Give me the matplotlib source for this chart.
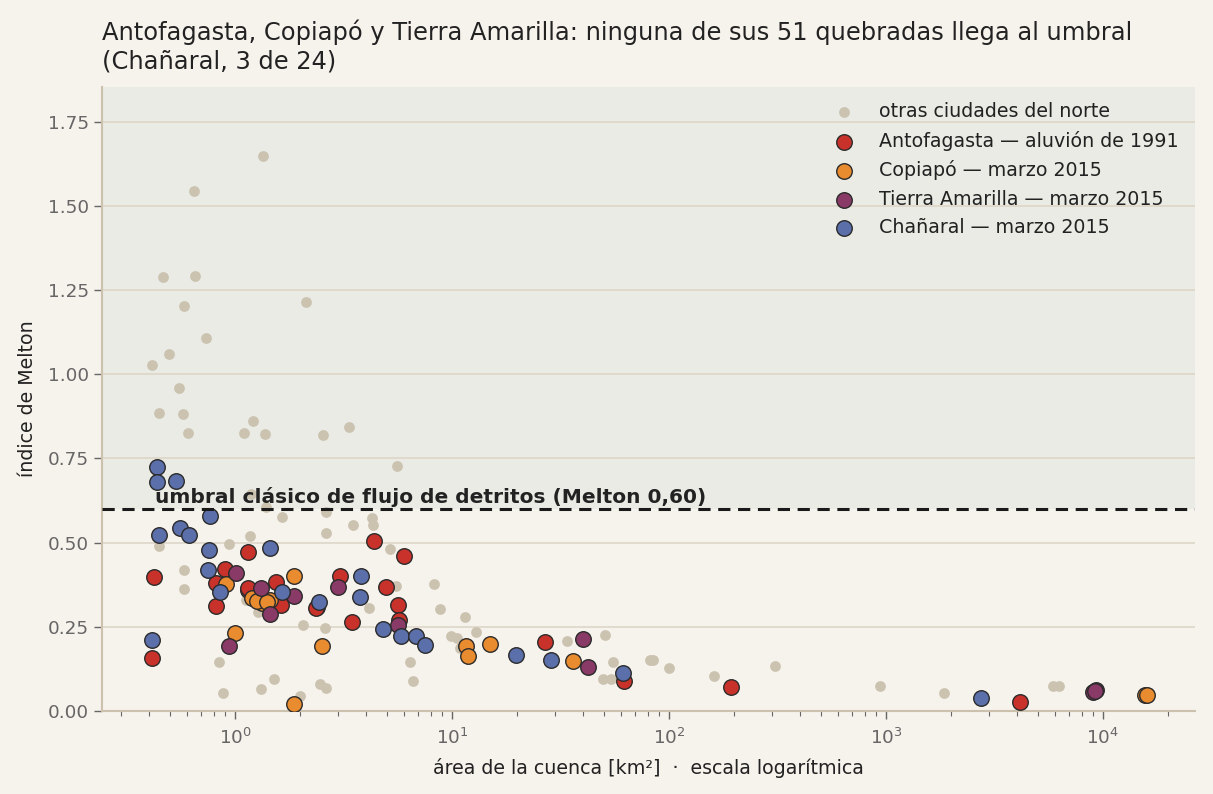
import matplotlib
matplotlib.use("Agg")
import matplotlib.pyplot as plt
import numpy as np

# ---------------- data ----------------
otras_area = [1.341, 0.645, 0.465, 0.656, 0.584, 2.12, 0.735, 0.495, 0.415, 0.554,
              0.445, 0.574, 0.605, 1.21, 1.096, 1.375, 2.55, 3.36, 5.58,
              1.185, 1.39, 1.64, 2.64, 0.445, 0.935, 1.169, 2.63, 0.584, 0.584,
              1.13, 1.28, 2.06, 2.60, 0.847, 1.51, 1.32, 0.878, 2.0, 2.46, 2.64,
              3.51, 4.26, 4.34, 5.18, 5.52, 4.16, 8.24, 8.78, 11.5, 12.9, 9.86,
              10.5, 10.9, 6.43, 6.61,
              33.8, 50.6, 55.0, 49.5, 54.2, 81.5, 84.1, 100, 161, 308, 942, 1857,
              5890, 6250]
otras_melton = [1.649, 1.543, 1.289, 1.292, 1.203, 1.213, 1.109, 1.060, 1.027, 0.959,
                0.885, 0.882, 0.826, 0.862, 0.826, 0.823, 0.820, 0.843, 0.728,
                0.645, 0.607, 0.575, 0.592, 0.491, 0.497, 0.519, 0.528, 0.418, 0.362,
                0.330, 0.293, 0.254, 0.246, 0.146, 0.096, 0.065, 0.053, 0.045, 0.079, 0.067,
                0.551, 0.574, 0.551, 0.481, 0.371, 0.307, 0.376, 0.304, 0.278, 0.235, 0.223,
                0.216, 0.186, 0.146, 0.090,
                0.207, 0.225, 0.146, 0.095, 0.095, 0.152, 0.152, 0.128, 0.104, 0.135, 0.074, 0.053,
                0.074, 0.074]

antof_area = [1.152, 0.425, 0.897, 0.817, 1.539, 1.152, 1.629, 0.820, 2.39, 0.416,
              4.38, 6.03, 3.06, 4.98, 5.66, 5.72, 3.47, 26.9, 62.0, 194, 4160,
              2.36, 1.15]
antof_melton = [0.471, 0.398, 0.422, 0.381, 0.382, 0.360, 0.315, 0.312, 0.310, 0.157,
                0.505, 0.460, 0.401, 0.368, 0.315, 0.270, 0.264, 0.205, 0.090, 0.070, 0.026,
                0.305, 0.365]

copia_area = [0.906, 1.876, 1.193, 1.327, 1.455, 1.003, 2.52, 1.87, 11.6, 11.9,
              15.0, 36.2, 15700, 1.26, 1.40, 15900]
copia_melton = [0.377, 0.401, 0.335, 0.320, 0.330, 0.233, 0.193, 0.021, 0.193, 0.162,
                0.199, 0.148, 0.047, 0.327, 0.325, 0.048]

tierra_area = [1.014, 1.322, 1.876, 1.455, 0.941, 2.99, 5.66, 40.3, 42.5, 9290, 9020, 9150]
tierra_melton = [0.409, 0.365, 0.342, 0.287, 0.193, 0.368, 0.256, 0.213, 0.130, 0.062, 0.057, 0.060]

chan_area = [0.438, 0.438, 0.537, 0.769, 0.448, 0.560, 0.616, 0.762, 1.455, 0.753,
             0.856, 1.652, 2.44, 0.416, 3.82, 3.78, 4.82, 5.84, 6.85, 7.54,
             19.7, 28.7, 61.6, 2750]
chan_melton = [0.724, 0.680, 0.682, 0.578, 0.522, 0.543, 0.522, 0.478, 0.484, 0.419,
               0.353, 0.353, 0.323, 0.211, 0.401, 0.339, 0.243, 0.223, 0.224, 0.196,
               0.167, 0.151, 0.113, 0.038]

umbral = 0.60
y_ticks = [0.00, 0.25, 0.50, 0.75, 1.00, 1.25, 1.50, 1.75]

# ---------------- style ----------------
BG = "#f6f2ec"
SHADE = "#e9ebe4"
GRID = "#ddd6c8"
SPINE = "#cbc1ad"
TXT = "#222222"
TICKTXT = "#666666"

plt.rcParams['font.family'] = ['DejaVu Sans']

fig = plt.figure(figsize=(12.13, 7.94), dpi=100, facecolor=BG)
ax = fig.add_axes([0.0841, 0.1045, 0.9009, 0.786])
ax.set_facecolor(BG)

ax.set_xscale("log")
ax.set_xlim(0.244, 26500)
ax.set_ylim(0, 1.853)

ax.axhspan(umbral, 1.853, color=SHADE, zorder=0, lw=0)
ax.set_yticks(y_ticks)
ax.set_yticklabels([f"{v:.2f}" for v in y_ticks])
ax.yaxis.grid(True, color=GRID, lw=1.2, zorder=0.5)
ax.set_axisbelow(True)

edge = "#2b2b2b"
ax.scatter(otras_area, otras_melton, s=60, color="#cbc2b0", lw=0, zorder=2,
           label="otras ciudades del norte")
ax.scatter(antof_area, antof_melton, s=125, color="#c8322a", edgecolor=edge, lw=1, zorder=3,
           label="Antofagasta — aluvión de 1991")
ax.scatter(copia_area, copia_melton, s=125, color="#e98b2f", edgecolor=edge, lw=1, zorder=4,
           label="Copiapó — marzo 2015")
ax.scatter(tierra_area, tierra_melton, s=125, color="#8a3a66", edgecolor=edge, lw=1, zorder=5,
           label="Tierra Amarilla — marzo 2015")
ax.scatter(chan_area, chan_melton, s=125, color="#5b6faa", edgecolor=edge, lw=1, zorder=6,
           label="Chañaral — marzo 2015")

ax.axhline(umbral, color="#1a1a1a", lw=2.2, ls=(0, (4, 2.5)), zorder=7)
ax.text(0.428, umbral + 0.006, "umbral clásico de flujo de detritos (Melton 0,60)",
        fontsize=14.5, fontweight="bold", color=TXT, ha="left", va="bottom", zorder=8)

for s in ["top", "right"]:
    ax.spines[s].set_visible(False)
for s in ["left", "bottom"]:
    ax.spines[s].set_color(SPINE)
    ax.spines[s].set_linewidth(1.5)

ax.tick_params(axis="both", which="major", labelsize=13.2, labelcolor=TICKTXT, color="#666666",
               length=6, width=1)
ax.tick_params(axis="x", which="major", pad=6)
ax.tick_params(axis="x", which="minor", color="#666666", length=3.5, width=0.8)

ax.set_xlabel("área de la cuenca [km²]  ·  escala logarítmica", fontsize=13.7, color=TXT, labelpad=7)
ax.set_ylabel("índice de Melton", fontsize=13.7, color=TXT, labelpad=8)

ax.set_title("Antofagasta, Copiapó y Tierra Amarilla: ninguna de sus 51 quebradas llega al umbral\n"
             "(Chañaral, 3 de 24)", loc="left", fontsize=17.4, color=TXT, pad=13, linespacing=1.25)

leg = ax.legend(loc="upper right", bbox_to_anchor=(0.997, 0.997), frameon=False, fontsize=13.7,
                labelcolor=TXT, handletextpad=0.8, labelspacing=0.5, borderaxespad=0.3)
leg.set_zorder(10)

fig.savefig("out.png", dpi=100, facecolor=BG)
